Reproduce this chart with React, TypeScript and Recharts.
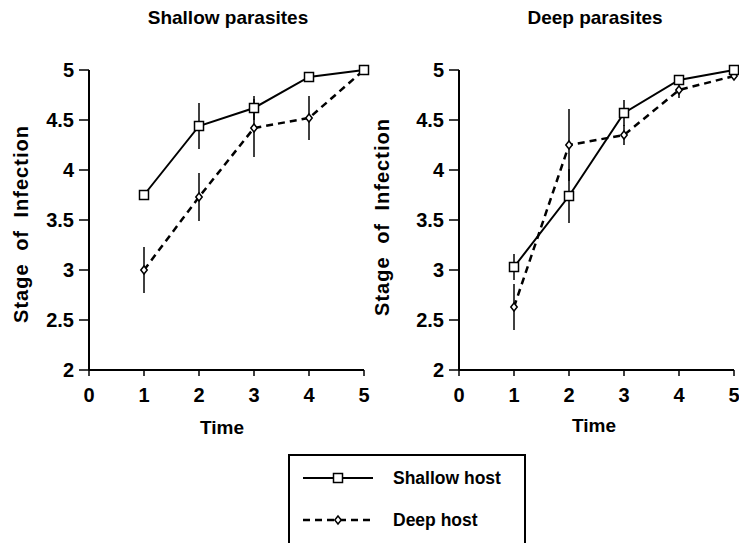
import React from 'react';
import { LineChart, Line, XAxis, YAxis, ErrorBar } from 'recharts';

const times = [1, 2, 3, 4, 5];
const xTicks = [0, 1, 2, 3, 4, 5];
const yTicks = [2, 2.5, 3, 3.5, 4, 4.5, 5];

const leftShallow = [3.75, 4.44, 4.62, 4.93, 5.0];
const leftShallowErr = [0.03, 0.23, 0.12, 0, 0];
const leftDeep = [3.0, 3.73, 4.42, 4.52, 5.0];
const leftDeepErr = [0.23, 0.24, 0.29, 0.22, 0];

const rightShallow = [3.03, 3.74, 4.57, 4.9, 5.0];
const rightShallowErr = [0.13, 0.27, 0.13, 0, 0];
const rightDeep = [2.63, 4.25, 4.35, 4.8, 4.94];
const rightDeepErr = [0.23, 0.36, 0.1, 0.08, 0];

const FONT = '"Liberation Sans", Arial, Helvetica, sans-serif';

function build(sh: number[], shE: number[], dp: number[], dpE: number[]) {
  return times.map((t, i) => ({ t, shallow: sh[i], shallowErr: shE[i], deep: dp[i], deepErr: dpE[i] }));
}

const leftData = build(leftShallow, leftShallowErr, leftDeep, leftDeepErr);
const rightData = build(rightShallow, rightShallowErr, rightDeep, rightDeepErr);

const SquareDot = (props: any) => {
  const { cx, cy, index } = props;
  if (cx == null || cy == null) return <g key={`s${index}`} />;
  return <rect key={`s${index}`} x={cx - 4.5} y={cy - 4.5} width={9} height={9} fill="#fff" stroke="#000" strokeWidth={1.5} />;
};

const DiamondDot = (props: any) => {
  const { cx, cy, index } = props;
  if (cx == null || cy == null) return <g key={`d${index}`} />;
  return (
    <path
      key={`d${index}`}
      d={`M${cx},${cy - 4} L${cx + 3.2},${cy} L${cx},${cy + 4} L${cx - 3.2},${cy} Z`}
      fill="#fff"
      stroke="#000"
      strokeWidth={1.5}
    />
  );
};

const tickStyle = { fontSize: 20, fontWeight: 'bold', fill: '#000', fontFamily: FONT } as any;

function Panel({ data, yLabelX, yLabelY, timeX, timeY }: any) {
  return (
    <LineChart width={370} height={445} data={data} margin={{ top: 70, right: 6, left: 0, bottom: 0 }}>
      <XAxis
        type="number"
        dataKey="t"
        domain={[0, 5]}
        ticks={xTicks}
        interval={0}
        height={75}
        axisLine={{ stroke: '#000', strokeWidth: 2 }}
        tickLine={{ stroke: '#000', strokeWidth: 1.5 }}
        tickSize={6}
        tickMargin={12}
        tick={tickStyle}
        label={{
          content: () => (
            <text x={timeX} y={timeY} textAnchor="middle" fontFamily={FONT} fontWeight="bold" fontSize={19} fill="#000">
              Time
            </text>
          ),
        }}
      />
      <YAxis
        type="number"
        domain={[2, 5]}
        ticks={yTicks}
        interval={0}
        width={89}
        axisLine={{ stroke: '#000', strokeWidth: 2 }}
        tickLine={{ stroke: '#000', strokeWidth: 1.5 }}
        tickSize={10}
        tickMargin={5}
        tick={tickStyle}
        label={{
          content: () => (
            <text
              x={yLabelX}
              y={yLabelY}
              transform={`rotate(-90 ${yLabelX} ${yLabelY})`}
              textAnchor="middle"
              dominantBaseline="central"
              fontFamily={FONT}
              fontWeight="bold"
              fontSize={20}
              letterSpacing={1}
              wordSpacing={6}
              fill="#000"
            >
              Stage of Infection
            </text>
          ),
        }}
      />
      <Line
        type="linear"
        dataKey="deep"
        stroke="#000"
        strokeWidth={2.5}
        strokeDasharray="7 5"
        dot={DiamondDot}
        activeDot={false}
        isAnimationActive={false}
      >
        <ErrorBar dataKey="deepErr" width={0} stroke="#000" strokeWidth={1.5} direction="y" />
      </Line>
      <Line
        type="linear"
        dataKey="shallow"
        stroke="#000"
        strokeWidth={2}
        dot={SquareDot}
        activeDot={false}
        isAnimationActive={false}
      >
        <ErrorBar dataKey="shallowErr" width={0} stroke="#000" strokeWidth={1.5} direction="y" />
      </Line>
    </LineChart>
  );
}

export default function App() {
  return (
    <div style={{ position: 'absolute', left: 0, top: 0, width: 739, height: 543, background: '#fff', overflow: 'hidden' }}>
      <div style={{ position: 'absolute', left: 0, top: 0 }}>
        <Panel data={leftData} yLabelX={21} yLabelY={224} timeX={222} timeY={434} />
      </div>
      <div style={{ position: 'absolute', left: 370, top: 0 }}>
        <Panel data={rightData} yLabelX={12} yLabelY={217} timeX={224} timeY={432} />
      </div>
      <svg style={{ position: 'absolute', left: 0, top: 0 }} width={739} height={60}>
        <text x={228} y={24} textAnchor="middle" fontFamily={FONT} fontWeight="bold" fontSize={19} fill="#000">
          Shallow parasites
        </text>
        <text x={595} y={24} textAnchor="middle" fontFamily={FONT} fontWeight="bold" fontSize={19} fill="#000">
          Deep parasites
        </text>
      </svg>
      <svg style={{ position: 'absolute', left: 288, top: 454 }} width={240} height={89}>
        <path d="M1,89 L1,1 L237,1 L237,89" fill="none" stroke="#000" strokeWidth={2} />
        <line x1={15} y1={24} x2={85} y2={24} stroke="#000" strokeWidth={2} />
        <rect x={45.5} y={19.5} width={9} height={9} fill="#fff" stroke="#000" strokeWidth={1.5} />
        <text x={105} y={30} fontFamily={FONT} fontWeight="bold" fontSize={17.5} fill="#000">
          Shallow host
        </text>
        <line x1={15} y1={66} x2={82} y2={66} stroke="#000" strokeWidth={2.5} strokeDasharray="7 5" />
        <path d="M50,62 L53.2,66 L50,70 L46.8,66 Z" fill="#fff" stroke="#000" strokeWidth={1.5} />
        <text x={105} y={72} fontFamily={FONT} fontWeight="bold" fontSize={17.5} fill="#000">
          Deep host
        </text>
      </svg>
    </div>
  );
}
